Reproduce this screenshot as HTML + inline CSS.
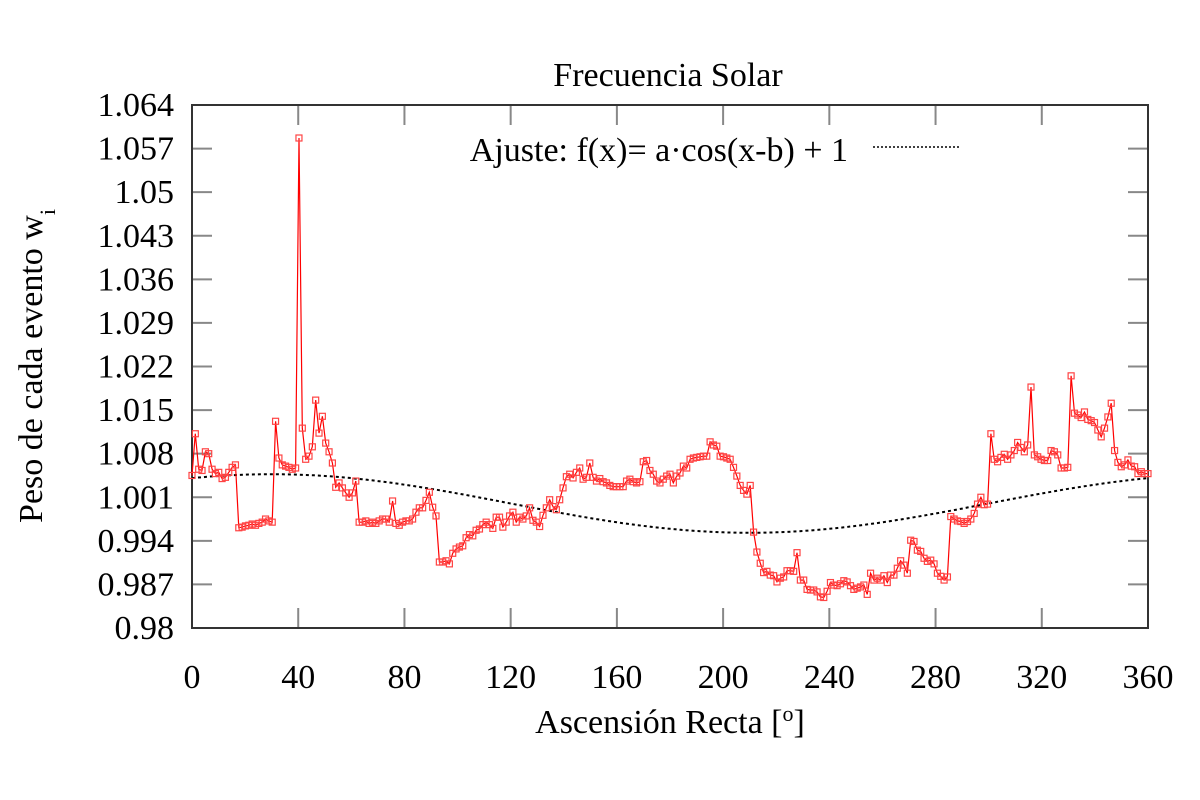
<!DOCTYPE html>
<html><head><meta charset="utf-8"><style>
html,body{margin:0;padding:0;background:#fff;}
svg{display:block;font-family:"Liberation Serif",serif;}
</style></head><body>
<svg id="chart" width="1200" height="800" xmlns="http://www.w3.org/2000/svg"></svg>
<script>
const xTicks = [0,40,80,120,160,200,240,280,320,360];
const yTicks = [0.98,0.987,0.994,1.001,1.008,1.015,1.022,1.029,1.036,1.043,1.05,1.057,1.064];
const yTickLabels = ["0.98","0.987","0.994","1.001","1.008","1.015","1.022","1.029","1.036","1.043","1.05","1.057","1.064"];
const fitA = 0.0047;
const fitB = 30;
const weights = [
1.0045,1.0112,1.0055,1.0053,1.0083,1.0080,1.0055,1.0048,1.0050,1.0040,1.0042,1.0050,1.0058,1.0062,
0.9961,0.9962,0.9964,0.9965,0.9967,0.9965,0.9968,0.9970,0.9975,0.9972,0.9970,
1.0132,1.0073,1.0062,1.0060,1.0058,1.0055,1.0057,
1.0587,
1.0121,1.0071,1.0076,1.0091,1.0166,1.0113,1.0140,1.0097,1.0083,1.0065,1.0026,1.0033,1.0025,1.0017,1.0010,1.0017,1.0036,
0.9970,0.9970,0.9972,0.9968,0.9970,0.9968,0.9972,0.9975,0.9975,0.9970,
1.0004,0.9968,0.9965,0.9970,0.9972,0.9972,0.9975,0.9986,0.9993,
0.9993,1.0005,1.0018,0.9994,0.998,0.9906,0.9906,0.9908,0.9903,0.992,
0.9927,0.9930,0.9932,0.9945,0.9950,0.9948,0.9957,0.9959,0.9966,0.9970,
0.9966,0.9960,0.9978,0.9978,0.9962,0.9970,0.9980,0.9986,0.9970,0.9978,
0.9975,0.9980,0.9993,0.9973,0.9970,0.9963,0.9981,0.9993,1.0006,0.9995,
0.9990,1.0006,1.0025,1.0043,1.0047,1.0041,1.0050,1.0057,1.0039,1.0042,
1.0065,1.0042,1.0036,1.0040,1.0035,1.0033,1.0029,1.0027,1.0027,1.0027,
1.0027,1.0036,1.0039,1.0035,1.0033,1.0035,1.0067,1.0069,1.0053,1.0047,
1.0036,1.0033,1.0039,1.0044,1.0047,1.0033,1.0044,1.0049,1.0060,1.0057,
1.0071,1.0073,1.0074,1.0075,1.0076,1.0076,1.0099,1.0094,1.0092,1.0076,
1.0075,1.0073,1.0071,1.0058,1.0044,1.0029,1.0021,1.0015,1.0029,0.9954,
0.9922,
0.9904,0.9889,0.9891,0.9885,0.9884,0.9874,0.9880,0.9882,0.9892,0.9892,0.9891,0.9921,0.9877,0.9877,
0.9862,0.9861,0.9861,0.9858,0.9850,0.9849,0.9859,0.9873,0.9869,0.9868,0.9871,0.9876,0.9874,0.9868,
0.9862,0.9864,0.9866,0.9869,0.9854,0.9888,0.9877,0.9880,0.9877,0.9884,0.9873,0.9885,0.9885,0.9896,
0.9908,0.9901,0.9888,0.9941,0.9939,0.9925,0.9923,0.9912,0.9907,0.9909,0.9903,0.9888,0.9883,0.9877,0.9882,
0.9979,0.9975,0.9972,0.9971,0.9968,0.9971,0.9975,0.9984,0.9999,1.0010,0.9998,0.9999,
1.0112,1.0071,1.0067,1.0074,1.0079,1.0071,1.0078,1.0085,1.0098,1.0090,1.0083,1.0094,
1.0187,1.0078,1.0075,1.0071,1.0069,1.0069,1.0085,1.0083,1.0078,1.0057,1.0057,1.0058,
1.0205,1.0145,1.0142,1.0138,1.0147,1.0135,1.0133,1.0130,1.0118,1.0107,1.0121,1.0139,1.0161,
1.0085,1.0066,1.0059,1.0062,1.0070,1.0060,1.0059,1.0048,1.0051,1.0048,1.0048
];
const X0=192, X1=1148, Y0=628, Y1=105;
const xS = v => X0 + (v-0)/(360-0)*(X1-X0);
const yS = v => Y0 - (v-0.98)/(1.064-0.98)*(Y0-Y1);
const NS="http://www.w3.org/2000/svg";
const svg=document.getElementById('chart');
function mk(tag, attrs, parent){const e=document.createElementNS(NS,tag);for(const k in attrs)e.setAttribute(k,attrs[k]);(parent||svg).appendChild(e);return e;}

xTicks.forEach(t=>{
  const x=xS(t);
  const a=mk('line',{x1:x,y1:Y0,x2:x,y2:Y0-20,stroke:'#888','stroke-width':2});
  
  
  const b=mk('line',{x1:x,y1:Y1,x2:x,y2:Y1+20,stroke:'#888','stroke-width':2});
  
  
  const l=mk('text',{x:x,y:688,'text-anchor':'middle','font-size':34,fill:'#000'});
  l.textContent=t;
  
  
});
yTicks.forEach((t,i)=>{
  const y=yS(t);
  const a=mk('line',{x1:X0,y1:y,x2:X0+20,y2:y,stroke:'#888','stroke-width':2});
  
  
  const b=mk('line',{x1:X1,y1:y,x2:X1-20,y2:y,stroke:'#888','stroke-width':2});
  
  
  const l=mk('text',{x:X0-18,y:y+11,'text-anchor':'end','font-size':34,fill:'#000'});
  l.textContent=yTickLabels[i];
  
  
});
const fr=mk('rect',{x:X0,y:Y1,width:X1-X0,height:Y0-Y1,fill:'none',stroke:'#333','stroke-width':2});



let fp=[];
for(let d=0;d<=360;d+=2){fp.push(xS(d).toFixed(1)+','+yS(1+fitA*Math.cos((d-fitB)*Math.PI/180)).toFixed(1));}
const fit=mk('polyline',{points:fp.join(' '),fill:'none',stroke:'#000','stroke-width':2,'stroke-dasharray':'3,3'});



const n=weights.length;
const pts=weights.map((w,i)=>[xS(i*360/(n-1)),yS(w)]);
const ln=mk('polyline',{points:pts.map(p=>p[0].toFixed(1)+','+p[1].toFixed(1)).join(' '),fill:'none',stroke:'#f00','stroke-width':1.2});


const g=mk('g',{});


pts.forEach(p=>{
  const r=mk('rect',{x:p[0]-3,y:p[1]-3,width:6,height:6,fill:'none',stroke:'#f44','stroke-width':1.2},g);
  
  
});

const lt=mk('text',{x:848,y:161,'text-anchor':'end','font-size':34,fill:'#000'});
lt.textContent='Ajuste: f(x)= a·cos(x-b) + 1';


const ll=mk('line',{x1:873,y1:147,x2:961,y2:147,stroke:'#000','stroke-width':1.5,'stroke-dasharray':'2,2'});



const tt=mk('text',{x:668,y:86,'text-anchor':'middle','font-size':34,fill:'#000'});
tt.textContent='Frecuencia Solar';


const xt=mk('text',{x:670,y:733,'text-anchor':'middle','font-size':34,fill:'#000'});
xt.innerHTML='Ascensión Recta [<tspan baseline-shift="super" font-size="22">o</tspan>]';


const yt=mk('text',{x:0,y:0,'text-anchor':'middle','font-size':34,fill:'#000',transform:'translate(42,366) rotate(-90)'});
yt.innerHTML='Peso de cada evento w<tspan baseline-shift="sub" font-size="22">i</tspan>';


</script>
</body></html>
